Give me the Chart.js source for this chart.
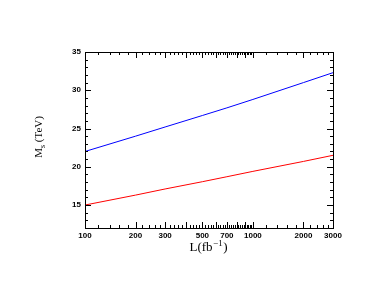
<!DOCTYPE html>
<html><head><meta charset="utf-8">
<script src="https://cdn.jsdelivr.net/npm/chart.js@4"></script>
<style>html,body{margin:0;padding:0;background:#fff}#wrap{width:381px;height:294px}</style>
</head><body><div id="wrap"><canvas id="c" width="381" height="294"></canvas></div>
<script>
const luminosity = [100, 200, 300, 500, 700, 1000, 2000, 3000];
const blueMs = [22.0, 24.0, 25.2, 26.7, 27.7, 28.8, 31.0, 32.3];
const redMs  = [15.0, 16.3, 17.1, 18.05, 18.7, 19.4, 20.7, 21.5];
const xLabelTicks = [100, 200, 300, 500, 700, 1000, 2000, 3000];
const xMajorTicks = [200, 300, 400, 500, 600, 700, 800, 900, 1000, 2000];
const yLabelTicks = [15, 20, 25, 30, 35];
const yMin = 12, yMax = 35, xMin = 100, xMax = 3000;

const xMinorTicks = [];
for (let v = 120; v < 1000; v += 20) if (v % 100 !== 0) xMinorTicks.push(v);
for (let v = 1200; v < 3000; v += 200) if (v % 1000 !== 0) xMinorTicks.push(v);
const yMinorTicks = [];
for (let v = 13; v < 35; v++) if (v % 5 !== 0) yMinorTicks.push(v);
const yMajorTicks = [15, 20, 25, 30];

const tickPlugin = {
  id: 'ticks',
  afterDatasetsDraw(chart) {
    const {ctx, chartArea: a, scales: {x, y}} = chart;
    ctx.save();
    ctx.strokeStyle = '#000';
    ctx.lineWidth = 1;
    ctx.strokeRect(Math.round(a.left) + 0.5, Math.round(a.top) + 0.5, Math.round(a.right - a.left), Math.round(a.bottom - a.top));
    ctx.beginPath();
    const xt = (v, len) => {
      const px = Math.round(x.getPixelForValue(v)) + 0.5;
      ctx.moveTo(px, a.bottom); ctx.lineTo(px, a.bottom - len);
      ctx.moveTo(px, a.top); ctx.lineTo(px, a.top + len);
    };
    const yt = (v, len) => {
      const py = Math.round(y.getPixelForValue(v)) + 0.5;
      ctx.moveTo(a.left, py); ctx.lineTo(a.left + len, py);
      ctx.moveTo(a.right, py); ctx.lineTo(a.right - len, py);
    };
    xMajorTicks.forEach(v => xt(v, 6));
    xMinorTicks.forEach(v => xt(v, 3));
    yMajorTicks.forEach(v => yt(v, 6));
    yMinorTicks.forEach(v => yt(v, 3));
    ctx.stroke();

    // axis titles
    ctx.fillStyle = '#000';
    ctx.textBaseline = 'alphabetic';
    // x title: L(fb^-1)
    const f = '13px "Liberation Serif"', fs = '9px "Liberation Serif"';
    ctx.font = f;
    const p1 = 'L(fb', p3 = ')';
    ctx.font = fs; const w2 = ctx.measureText('\u22121').width;
    ctx.font = f; const w1 = ctx.measureText(p1).width, w3 = ctx.measureText(p3).width;
    const cx = (a.left + a.right) / 2 - 1;
    let sx = cx - (w1 + w2 + w3) / 2, by = 251;
    ctx.fillText(p1, sx, by);
    ctx.font = fs; ctx.fillText('\u22121', sx + w1 + 0.5, by - 5);
    ctx.font = f; ctx.fillText(p3, sx + w1 + w2 + 1, by);
    // y title: M_s (TeV)
    ctx.save();
    ctx.translate(42, (a.top + a.bottom) / 2 - 3);
    ctx.rotate(-Math.PI / 2);
    const g = '11px "Liberation Serif"', gs = '8px "Liberation Serif"';
    ctx.font = g; const m = 'M', rest = ' (TeV)';
    const wm = ctx.measureText(m).width, wr = ctx.measureText(rest).width;
    ctx.font = gs; const ws = ctx.measureText('s').width;
    let tx = -(wm + ws + wr) / 2;
    ctx.font = g; ctx.fillText(m, tx, 0);
    ctx.font = gs; ctx.fillText('s', tx + wm, 3);
    ctx.font = g; ctx.fillText(rest, tx + wm + ws, 0);
    ctx.restore();
    ctx.restore();
  }
};

new Chart(document.getElementById('c'), {
  type: 'line',
  data: {
    labels: luminosity,
    datasets: [
      {data: luminosity.map((l, i) => ({x: l, y: blueMs[i]})), borderColor: '#0000ff', borderWidth: 1, pointRadius: 0, cubicInterpolationMode: 'monotone', fill: false},
      {data: luminosity.map((l, i) => ({x: l, y: redMs[i]})), borderColor: '#ff0000', borderWidth: 1, pointRadius: 0, cubicInterpolationMode: 'monotone', fill: false}
    ]
  },
  options: {
    responsive: false, animation: false, devicePixelRatio: 1,
    layout: {padding: {left: 0, right: 48, top: 52, bottom: 0}},
    plugins: {legend: {display: false}, tooltip: {enabled: false}},
    scales: {
      x: {
        type: 'logarithmic', min: xMin, max: xMax,
        grid: {display: false, drawTicks: false}, border: {display: false},
        afterBuildTicks: s => { s.ticks = xLabelTicks.map(v => ({value: v})); },
        afterFit: s => { s.height = 66; },
        ticks: {autoSkip: false, maxRotation: 0, padding: 3, color: '#000', font: {family: 'Liberation Sans', size: 8, weight: 'bold'}, callback: v => String(v)}
      },
      y: {
        type: 'linear', min: yMin, max: yMax,
        grid: {display: false, drawTicks: false}, border: {display: false},
        afterBuildTicks: s => { s.ticks = yLabelTicks.map(v => ({value: v})); },
        afterFit: s => { s.width = 85; },
        ticks: {padding: 4, color: '#000', font: {family: 'Liberation Sans', size: 8, weight: 'bold'}, callback: v => String(v)}
      }
    }
  },
  plugins: [tickPlugin]
});
</script></body></html>
